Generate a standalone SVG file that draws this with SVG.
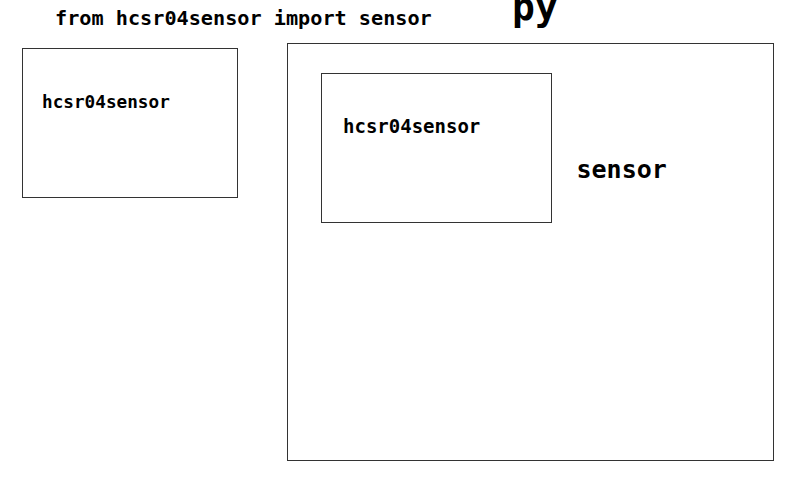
<svg xmlns="http://www.w3.org/2000/svg" width="812" height="496" viewBox="0 0 812 496">
<style>
.box{fill:#fff;stroke:#333;stroke-width:1}
text{font-family:"DejaVu Sans Mono",monospace;font-weight:bold;fill:#000}
</style>
<rect width="812" height="496" fill="#fff"/>
<text x="55" y="25" font-size="20.2">from hcsr04sensor import sensor</text>
<g id="py">
<rect class="box" x="287.5" y="43.5" width="486" height="417"/>
<text x="512" y="20" font-size="38">py</text>
</g>
<g id="hcsr04sensor-left">
<rect class="box" x="22.5" y="48.5" width="215" height="149"/>
<text x="42" y="108" font-size="17.7">hcsr04sensor</text>
</g>
<g id="hcsr04sensor-inner">
<rect class="box" x="321.5" y="73.5" width="230" height="149"/>
<text x="343" y="133" font-size="19">hcsr04sensor</text>
</g>
<g id="sensor">
<text x="576.5" y="178" font-size="25">sensor</text>
</g>
<g id="connectors"></g>
</svg>
